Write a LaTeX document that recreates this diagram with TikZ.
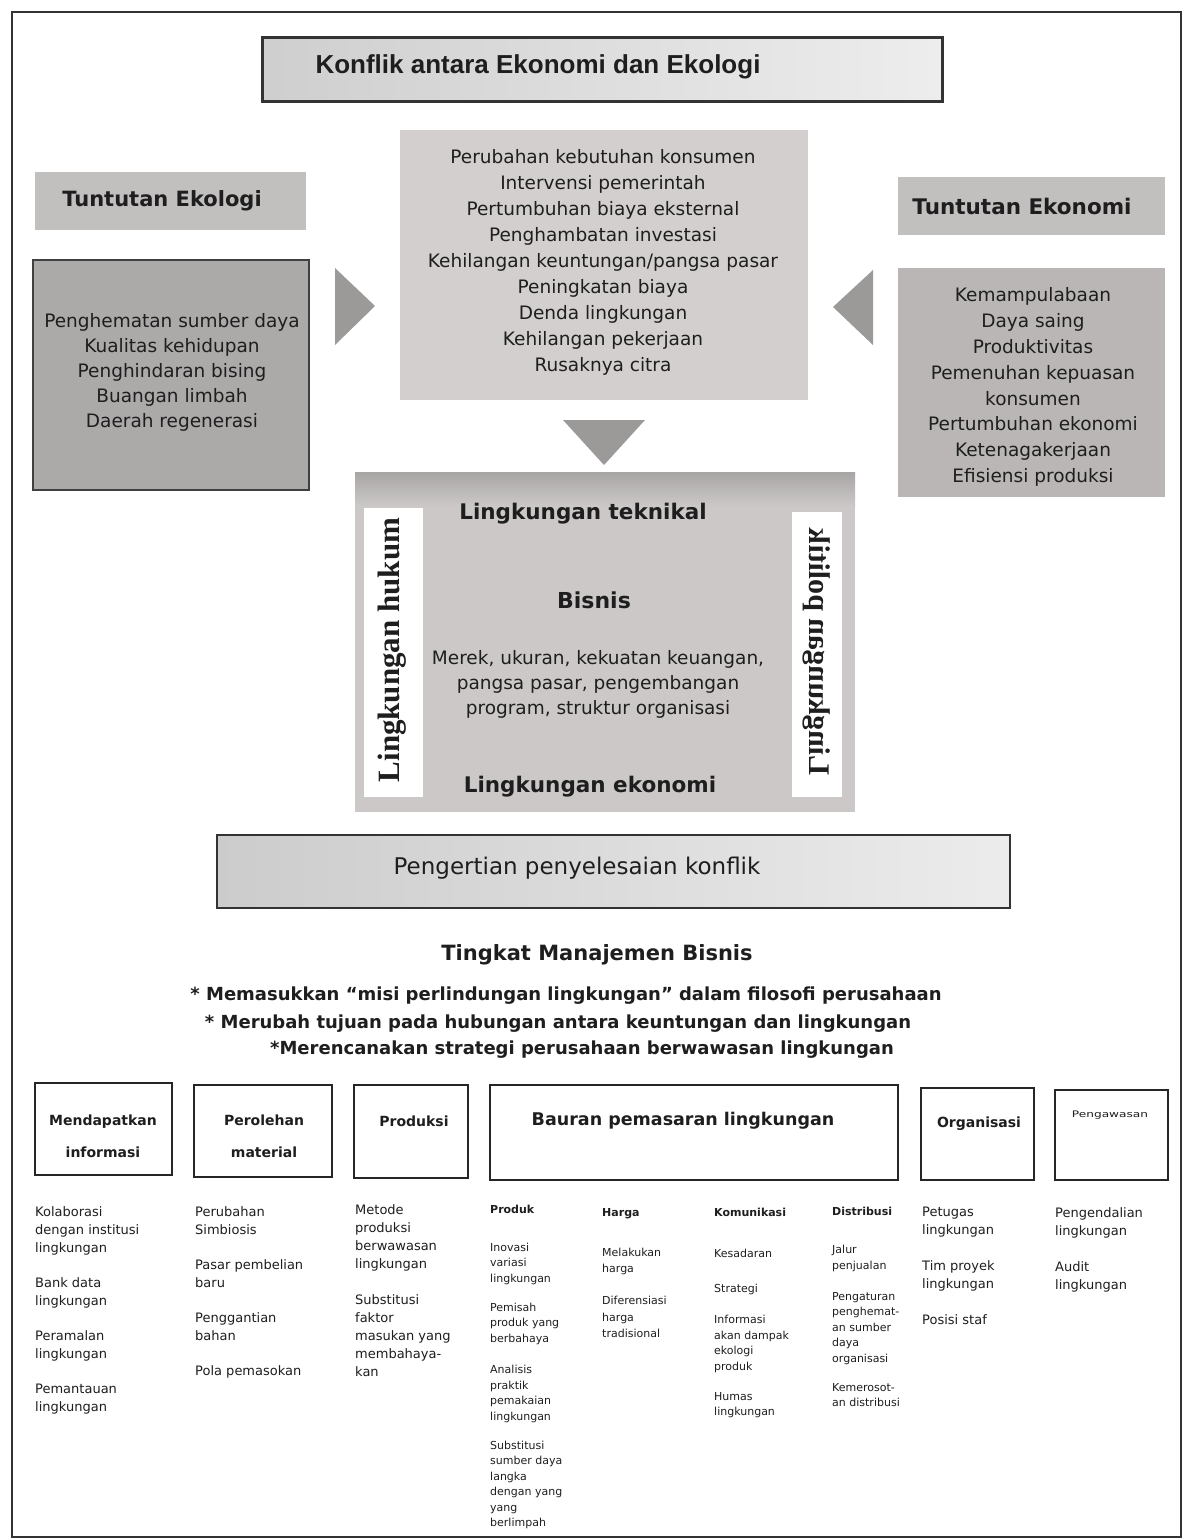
\documentclass[tikz,border=0pt]{standalone}
\usepackage{fontspec}
\setmainfont{DejaVu Sans}
\newfontfamily\arialf{Liberation Sans}
\newfontfamily\serifbf{Liberation Serif}
\usepackage{graphicx}
\newcommand\myfs[2]{\fontsize{#1}{#2}\selectfont}
\definecolor{txt}{HTML}{1E1E1E}
\definecolor{gA}{HTML}{C2BFBF}
\definecolor{gB}{HTML}{ACA9A9}
\definecolor{gC}{HTML}{D3CFCF}
\definecolor{gD}{HTML}{BAB6B6}
\definecolor{gE}{HTML}{CCC8C8}
\definecolor{gF}{HTML}{A8A5A5}
\definecolor{gT}{HTML}{9C9999}
\begin{document}
\begin{tikzpicture}[x=1pt,y=-1pt,
  every node/.style={text=txt},
  rect/.style={rectangle, inner sep=0pt, draw=none},
  hbox/.style={rect, draw=black!85, line width=2pt, fill=white},
  lst/.style={align=center, inner sep=0pt, font=\myfs{18.5}{25}},
  col/.style={align=left, anchor=north west, inner sep=0pt, font=\myfs{13}{18}},
  cols/.style={align=left, anchor=north west, inner sep=0pt, font=\myfs{11}{15.5}},
  htxt/.style={align=center, inner sep=0pt, font=\bfseries\myfs{14}{32}},
  instr/.style={inner sep=0pt, font=\bfseries\myfs{18}{22}},
  tri/.style={fill=gT, draw=none}]
\fill[white] (0,0) rectangle (1191,1540);
\useasboundingbox (0,0) rectangle (1191,1540);
% outer frame
\draw[black!80, line width=1.5pt] (12,12) -- (1181,12) -- (1181,1537) -- (12,1537) -- cycle;

% title
\node[rect, draw=black!80, line width=3pt, left color=gray!38, right color=gray!14,
      minimum width=680pt, minimum height=64pt] (titlebox) at (602,69) {};
\node[font=\arialf\bfseries\myfs{26}{30}] (titletext) at (538,67) {Konflik antara Ekonomi dan Ekologi};

% left: Tuntutan Ekologi
\node[rect, fill=gA, minimum width=271pt, minimum height=58pt] (ekolhead) at (170.5,201) {};
\node[font=\bfseries\myfs{21}{25}] (ekoltext) at (162,201) {Tuntutan Ekologi};
\node[rect, fill=gB, draw=black!75, line width=1.5pt, minimum width=276pt, minimum height=230pt] (ekolbox) at (171,375) {};
\node[lst] (ekollist) at (172,372) {Penghematan sumber daya\\Kualitas kehidupan\\Penghindaran bising\\Buangan limbah\\Daerah regenerasi};

% centre conflicts
\node[rect, fill=gC, minimum width=408pt, minimum height=270pt] (conflict) at (604,265) {};
\node[lst, font=\myfs{18.5}{26}] (conflictlist) at (603,262) {Perubahan kebutuhan konsumen\\Intervensi pemerintah\\Pertumbuhan biaya eksternal\\Penghambatan investasi\\Kehilangan keuntungan/pangsa pasar\\Peningkatan biaya\\Denda lingkungan\\Kehilangan pekerjaan\\Rusaknya citra};

% right: Tuntutan Ekonomi
\node[rect, fill=gA, minimum width=267pt, minimum height=58pt] (ekonhead) at (1031.5,206) {};
\node[font=\bfseries\myfs{21.5}{25}] (ekontext) at (1022,206) {Tuntutan Ekonomi};
\node[rect, fill=gD, minimum width=267pt, minimum height=229pt] (ekonbox) at (1031.5,382.5) {};
\node[lst, font=\myfs{18.5}{25.9}] (ekonlist) at (1033,387) {Kemampulabaan\\Daya saing\\Produktivitas\\Pemenuhan kepuasan\\konsumen\\Pertumbuhan ekonomi\\Ketenagakerjaan\\Efisiensi produksi};

% arrows (triangles)
\fill[tri] (335,268) -- (375,306) -- (335,345) -- cycle;
\fill[tri] (873,270) -- (833,307) -- (873,345) -- cycle;
\fill[tri] (563,420) -- (645,420) -- (604,465) -- cycle;

% business block
\node[rect, fill=gE, minimum width=500pt, minimum height=340pt] (bisnisbox) at (605,642) {};
\node[rect, top color=gF, bottom color=gE, minimum width=500pt, minimum height=34pt] (band) at (605,489) {};
\node[rect, fill=white, minimum width=59pt, minimum height=289pt] (hukumstrip) at (393.5,652.5) {};
\node[rect, fill=white, minimum width=50pt, minimum height=285pt] (politikstrip) at (817,654.5) {};
\node[font=\serifbf\bfseries\myfs{31}{35}, rotate=90] (hukum) at (392,650) {Lingkungan hukum};
\node[font=\serifbf\bfseries\myfs{30}{34}, rotate=-90, xscale=-1] (politik) at (817,652) {Lingkungan politik};
\node[font=\bfseries\myfs{21.5}{25}] (teknikal) at (583,514) {Lingkungan teknikal};
\node[font=\bfseries\myfs{22}{26}] (bisnis) at (594,600) {Bisnis};
\node[lst] (bisnislist) at (598,684) {Merek, ukuran, kekuatan keuangan,\\pangsa pasar, pengembangan\\program, struktur organisasi};
\node[font=\bfseries\myfs{21.5}{25}] (ekonomi) at (590,787) {Lingkungan ekonomi};

% resolution
\node[rect, draw=black!80, line width=2pt, left color=gray!40, right color=gray!15,
      minimum width=793pt, minimum height=73pt] (pengbox) at (613.5,871.5) {};
\node[font=\myfs{23}{27}] (pengtext) at (577,868) {Pengertian penyelesaian konflik};

% management level
\node[font=\bfseries\myfs{21}{25}, inner sep=0pt] (tmb) at (597,955) {Tingkat Manajemen Bisnis};
\node[instr] (i1) at (566,996) {* Memasukkan ``misi perlindungan lingkungan'' dalam filosofi perusahaan};
\node[instr] (i2) at (558,1024) {* Merubah tujuan pada hubungan antara keuntungan dan lingkungan};
\node[instr] (i3) at (582,1050) {*Merencanakan strategi perusahaan berwawasan lingkungan};

% header boxes
\node[hbox, minimum width=137pt, minimum height=92pt] (h1) at (103.5,1129) {};
\node[hbox, minimum width=138pt, minimum height=92pt] (h2) at (263,1131) {};
\node[hbox, minimum width=114pt, minimum height=93pt] (h3) at (411,1131.5) {};
\node[hbox, minimum width=408pt, minimum height=95pt] (h4) at (694,1132.5) {};
\node[hbox, minimum width=113pt, minimum height=92pt] (h5) at (977.5,1134) {};
\node[hbox, minimum width=113pt, minimum height=90pt] (h6) at (1111.5,1135) {};
\node[htxt] (h1t) at (103,1136) {Mendapatkan\\informasi};
\node[htxt] (h2t) at (264,1136) {Perolehan\\material};
\node[htxt] (h3t) at (414,1121) {Produksi};
\node[htxt, font=\bfseries\myfs{17.5}{22}] (h4t) at (683,1121) {Bauran pemasaran lingkungan};
\node[htxt] (h5t) at (979,1124) {Organisasi};
\node[htxt, font=\myfs{9}{12}] (h6t) at (1110,1115) {\scalebox{1.35}[1]{Pengawasan}};

% columns
\node[col] (c1) at (35,1206) {Kolaborasi\\dengan institusi\\lingkungan\\[17pt]Bank data\\lingkungan\\[17pt]Peramalan\\lingkungan\\[17pt]Pemantauan\\lingkungan};
\node[col] (c2) at (195,1206) {Perubahan\\Simbiosis\\[17pt]Pasar pembelian\\baru\\[17pt]Penggantian\\bahan\\[17pt]Pola pemasokan};
\node[col] (c3) at (355,1204) {Metode\\produksi\\berwawasan\\lingkungan\\[18pt]Substitusi\\faktor\\masukan yang\\membahaya-\\kan};
\node[cols] (c4) at (490,1205) {\textbf{Produk}\\[22pt]Inovasi\\variasi\\lingkungan\\[13.5pt]Pemisah\\produk yang\\berbahaya\\[16pt]Analisis\\praktik\\pemakaian\\lingkungan\\[13.5pt]Substitusi\\sumber daya\\langka\\dengan yang\\yang\\berlimpah};
\node[cols, font=\myfs{11}{16.5}] (c5) at (602,1208) {\textbf{Harga}\\[23.5pt]Melakukan\\harga\\[15.5pt]Diferensiasi\\harga\\tradisional};
\node[cols] (c6) at (714,1208) {\textbf{Komunikasi}\\[25.5pt]Kesadaran\\[19.5pt]Strategi\\[15.5pt]Informasi\\akan dampak\\ekologi\\produk\\[14.5pt]Humas\\lingkungan};
\node[cols] (c7) at (832,1207) {\textbf{Distribusi}\\[22.5pt]Jalur\\penjualan\\[15.5pt]Pengaturan\\penghemat-\\an sumber\\daya\\organisasi\\[13.5pt]Kemerosot-\\an distribusi};
\node[col] (c8) at (922,1207) {Petugas\\lingkungan\\[18pt]Tim proyek\\lingkungan\\[18pt]Posisi staf};
\node[col] (c9) at (1055,1207) {Pengendalian\\lingkungan\\[18pt]Audit\\lingkungan};
\end{tikzpicture}
\end{document}
